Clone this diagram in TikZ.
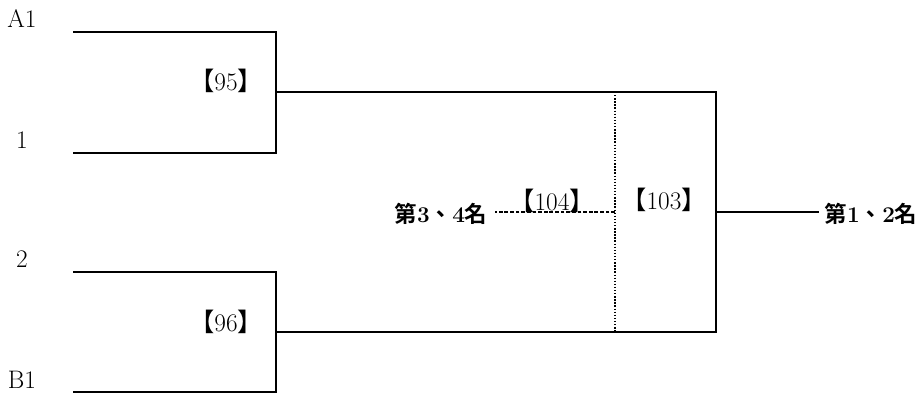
\documentclass[tikz,border=0pt]{standalone}
\usepackage{fontspec}
\usepackage{tikz}
\newfontfamily\cjk{Noto Sans CJK TC}
\newfontfamily\cjkb{Noto Sans CJK TC Bold}
\newcommand{\lbl}[1]{{\cjk 【}#1{\cjk 】}}

\begin{document}
\begin{tikzpicture}
            [x=0.025cm,y=-0.025cm,line width=1.3pt,
             every node/.style={inner sep=0pt,font=\fontsize{18}{20}\selectfont}]
            \useasboundingbox (0,0) rectangle (920,394);
            % players
            \node (A1) at (22,19) {A1};
            \node (P1) at (22,140) {1};
            \node (P2) at (22,259) {2};
            \node (B1) at (22,380) {B1};
            \coordinate (a1) at (73,32);
            \coordinate (p1) at (73,153);
            \coordinate (p2) at (73,272);
            \coordinate (b1) at (73,392);
            \coordinate (m95a) at (276,32);
            \coordinate (m95b) at (276,153);
            \coordinate (m95) at (276,92);
            \coordinate (m96a) at (276,272);
            \coordinate (m96b) at (276,392);
            \coordinate (m96) at (276,332);
            \coordinate (f1) at (716,92);
            \coordinate (f2) at (716,332);
            \coordinate (f) at (716,212);
            \coordinate (t1) at (615,92);
            \coordinate (t2) at (615,332);
            \coordinate (t) at (615,212);

            % match labels
            \node (L95) at (226,81) {\lbl{95}};
            \node (L96) at (226,322) {\lbl{96}};
            \node (L104) at (552,201) {\lbl{104}};
            \node (L103) at (664,200) {\lbl{103}};
            \node[font=\fontsize{16}{18}\selectfont] (W34) at (441,214)
                {{\cjkb 第}\textbf{3}{\cjkb 、}\textbf{4}{\cjkb 名}};
            \node[font=\fontsize{16}{18}\selectfont] (W12) at (871,214)
                {{\cjkb 第}\textbf{1}{\cjkb 、}\textbf{2}{\cjkb 名}};

            % first round
            \draw (a1) -- (m95a) -- (m95b) -- (p1);
            \draw (p2) -- (m96a) -- (m96b) -- (b1);

            % final
            \draw (m95) -- (f1) -- (f2) -- (m96);
            \draw (f) -- ([xshift=-3pt]f -| W12.west);

            % third place
            \draw[line width=1pt,dash pattern=on 1pt off 1.2pt] (t1) -- (t2);
            \draw[line width=1pt,dash pattern=on 2.6pt off 1.4pt] (t) -- ([xshift=5pt]t -| W34.east);
        \end{tikzpicture}
\end{document}
